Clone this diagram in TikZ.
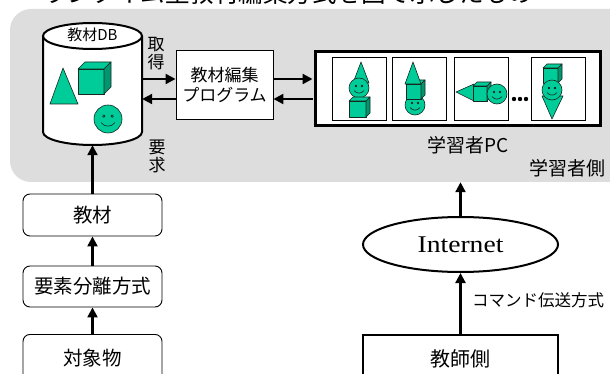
\documentclass[tikz,border=0pt]{standalone}
\usepackage{fontspec}
\setmainfont{Noto Sans CJK JP}
\newfontfamily\latinserif{Liberation Serif}
\usetikzlibrary{arrows.meta,shapes.geometric}

\definecolor{panelgray}{RGB}{221,221,221}
\definecolor{solidgreen}{RGB}{0,204,153}
\definecolor{shadegreen}{RGB}{0,150,112}
\definecolor{solidline}{RGB}{20,40,30}

\newcommand\fs[1]{\fontsize{#1}{#1}\selectfont}

% solid block: #1 x, #2 y of back edge, #3 width, #4 height, #5 depth
\newcommand\solidcube[5]{%
  \filldraw[solid] (#1,#2+#5) rectangle (#1+#3,#2+#5+#4);
  \filldraw[solid] (#1,#2+#5) -- (#1+#5,#2) -- (#1+#3+#5,#2) -- (#1+#3,#2+#5) -- cycle;
  \filldraw[solid,fill=shadegreen] (#1+#3,#2+#5) -- (#1+#3+#5,#2) -- (#1+#3+#5,#2+#4) -- (#1+#3,#2+#5+#4) -- cycle;}
% face: #1 cx, #2 cy, #3 radius
\newcommand\smileface[3]{%
  \filldraw[solid] (#1,#2) circle[radius=#3];
  \filldraw[solid] (#1-0.3*#3,#2-0.2*#3) circle[radius=0.09*#3];
  \filldraw[solid] (#1+0.3*#3,#2-0.2*#3) circle[radius=0.09*#3];
  \draw[solid] (#1-0.5*#3,#2+0.25*#3) .. controls (#1-0.25*#3,#2+0.6*#3) and (#1+0.25*#3,#2+0.6*#3) .. (#1+0.5*#3,#2+0.25*#3);}
% cone as a triangle: three corners
\newcommand\solidcone[3]{\filldraw[solid] #1 -- #2 -- #3 -- cycle;}

\tikzset{
  solid/.style={fill=solidgreen,draw=solidline,line width=0.6pt,line join=round},
  arr/.style={line width=2.2pt,-{Triangle[length=10pt,width=10pt]}},
  flowbox/.style={draw,line width=0.9pt,rounded corners=7pt,minimum width=139pt,font=\fs{19.5},inner sep=0pt},
  frame/.style={draw,line width=0.9pt,minimum width=54pt,minimum height=63pt,fill=white,inner sep=0pt},
  lbl/.style={font=\fs{17},inner sep=0pt},
}

\begin{document}
\begin{tikzpicture}[x=1pt,y=-1pt]
\useasboundingbox (0,0) rectangle (610,374);

% heading line, cut by the top edge
\node[anchor=base west,font=\fs{24.5},inner sep=0pt] (title) at (43,3) {ランタイム型教材編集方式を図で示したもの};

% learner side panel
\node[fill=panelgray,rounded corners=21pt,minimum width=640pt,minimum height=173pt,inner sep=0pt] (learner) at (330,95.5) {};

% material database
\node[minimum width=99pt,minimum height=122pt,inner sep=0pt] (db) at (92.5,84) {};
\filldraw[fill=white,line width=2pt] (43,36) -- (43,132) arc[start angle=180,end angle=0,x radius=49.5,y radius=13] -- (142,36);
\filldraw[fill=white,line width=2pt] (92.5,36) ellipse[x radius=49.5,y radius=13];
\node[font=\fs{15},inner sep=0pt] (dblabel) at (92.5,35) {教材DB};
\solidcone{(63,68)}{(50,104)}{(78,104)}
\solidcube{78}{62}{26}{25}{7}
\smileface{108}{119}{14}

% editor program
\node[draw,fill=white,line width=0.9pt,minimum width=97pt,minimum height=69pt,align=center,font=\fs{17},inner sep=0pt] (prog) at (224.5,84.5) {教材編集\\[3pt]プログラム};

% learner PC with four views
\node[draw,fill=white,line width=3pt,minimum width=285pt,minimum height=74pt,inner sep=0pt] (pc) at (458,88.5) {};
\node[frame] (v1) at (359,88.5) {};
\node[frame] (v2) at (419.5,88.5) {};
\node[frame] (v3) at (481,88.5) {};
\node[frame] (v4) at (558,88.5) {};

\solidcone{(361,62)}{(353,83)}{(369,83)}
\smileface{359}{88}{10}
\solidcube{349}{97}{17}{16}{4}

\smileface{415}{105}{10}
\solidcube{406}{80}{15}{15}{4}
\solidcone{(413,62)}{(405,84)}{(421,84)}

\solidcone{(456,92)}{(474,84)}{(474,101)}
\solidcube{473}{82}{14}{15}{4}
\smileface{497}{94}{10}

\solidcone{(542,96)}{(563,96)}{(552,119)}
\solidcube{543}{64}{15}{15}{4}
\smileface{552}{90}{10}

\foreach \dx in {514,520,526} \fill (\dx,99) circle[radius=2.2];

\node[font=\fs{19},inner sep=0pt] (pclabel) at (468,145) {学習者PC};
\node[font=\fs{19},inner sep=0pt] (sidelabel) at (567,168) {学習者側};

% fetch / request labels
\node[lbl,align=center] (fetch) at (156,54) {取\\[1pt]得};
\node[lbl,align=center] (req) at (157,156.5) {要\\[1pt]求};

% teacher side
\node[ellipse,draw,line width=2pt,minimum width=195pt,minimum height=55pt,inner sep=0pt,font=\latinserif\fs{24}] (inet) at (460.5,244.5) {\scalebox{1.15}[1]{Internet}};
\node[anchor=north,draw,line width=2pt,minimum width=195pt,inner sep=0pt,text height=31pt,text depth=35pt,font=\fs{20}] (teacher) at (460.5,334) {教師側};
\node[anchor=west,font=\fs{16.5},inner sep=0pt] (cmd) at (472,300) {コマンド伝送方式};

% authoring chain
\node[flowbox,minimum height=42pt] (mat) at (92.5,215) {教材};
\node[flowbox,minimum height=41pt] (sep) at (92.5,286.5) {要素分離方式};
\node[flowbox,anchor=north,text height=31pt,text depth=35pt] (obj) at (92.5,334) {対象物};

% connectors
\coordinate (ua) at ([yshift=5.5pt]prog.west);
\coordinate (la) at ([yshift=-14.5pt]prog.west);
\coordinate (ub) at ([yshift=5.5pt]prog.east);
\coordinate (lb) at ([yshift=-14.5pt]prog.east);
\draw[arr] (ua -| db.east) -- (ua);
\draw[arr] (la) -- (la -| db.east);
\draw[arr,shorten >=1.5pt] (ub) -- (ub -| pc.west);
\draw[arr,shorten <=1.5pt] (lb -| pc.west) -- (lb);

\draw[arr] (mat.north) -- (db.south);
\draw[arr] (sep.north) -- (mat.south);
\draw[arr] (obj.north) -- (sep.south);
\draw[arr] (inet.north) -- (inet.north |- learner.south);
\draw[arr] (teacher.north) -- (inet.south);
\end{tikzpicture}
\end{document}
